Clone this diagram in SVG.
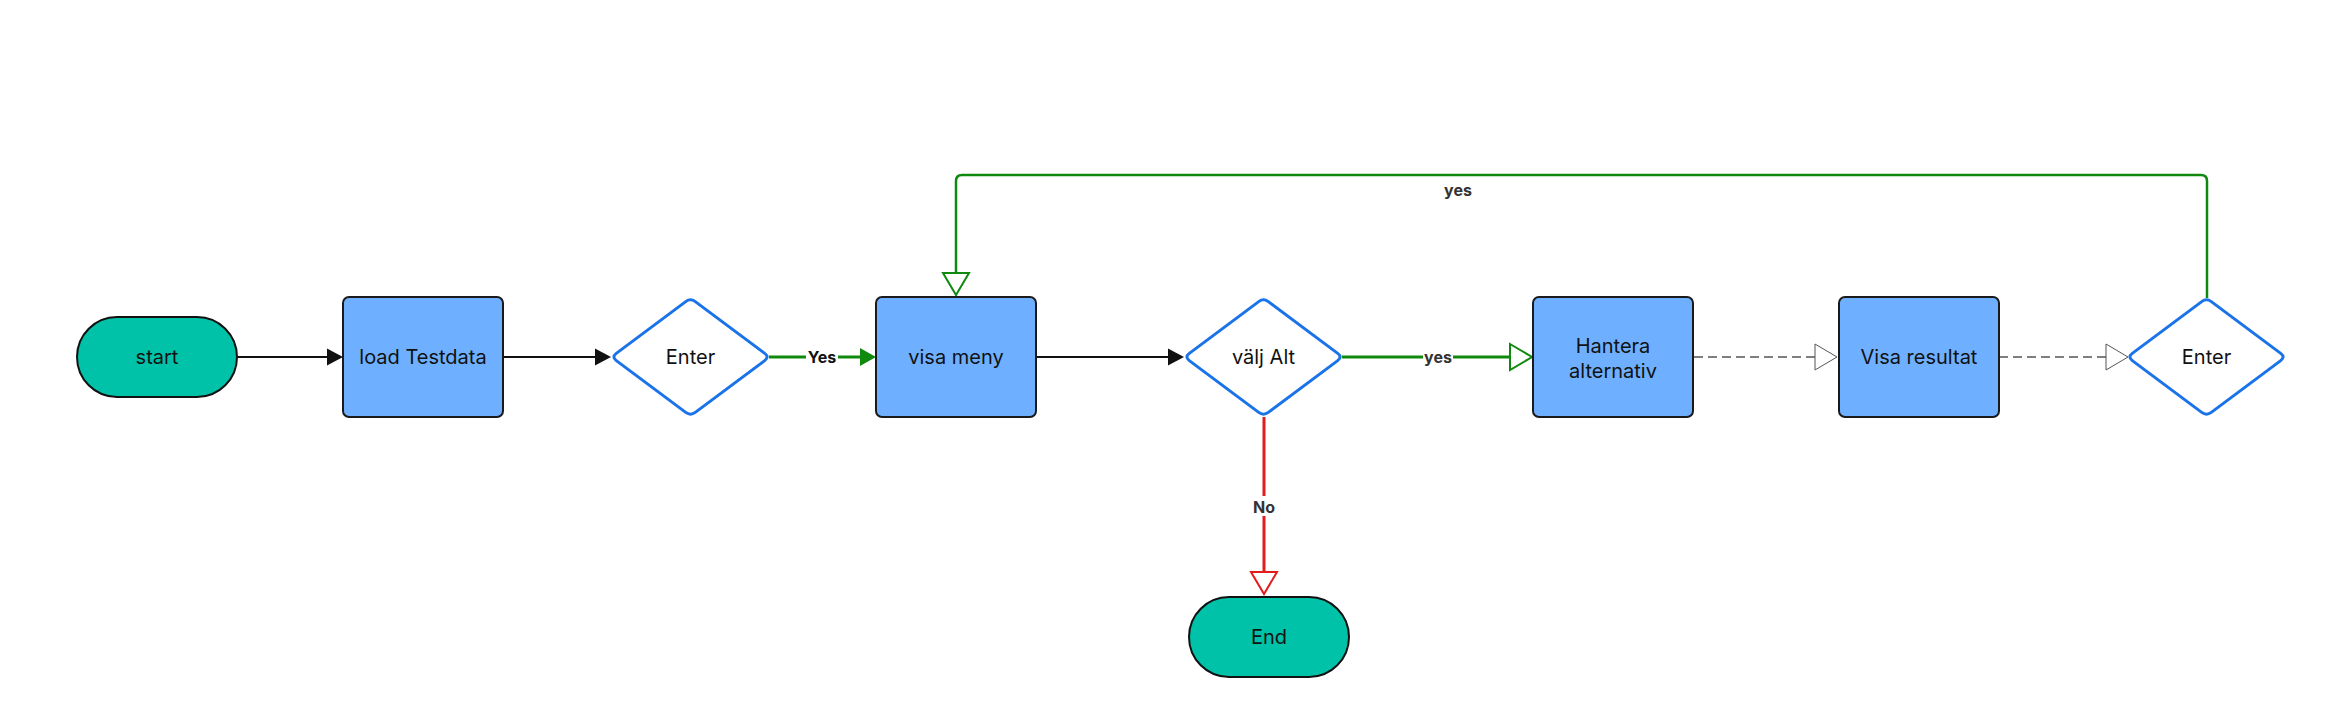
<svg xmlns="http://www.w3.org/2000/svg" width="2327" height="719" viewBox="0 0 2327 719">
<style>
  .pill{fill:#00c2a8;stroke:#111;stroke-width:2}
  .box{fill:#6eb0ff;stroke:#1a1a1a;stroke-width:2}
  .dia{fill:#fff;stroke:#1a73e8;stroke-width:3}
  .t{font-family:Inter,"Liberation Sans",sans-serif;font-size:20px;fill:#111;text-anchor:middle}
  .lbl{font-family:Inter,"Liberation Sans",sans-serif;font-size:16px;font-weight:bold;fill:#333;text-anchor:middle}
  .lbg{fill:#fff}
  .blk{fill:none;stroke:#111;stroke-width:2}
  .grn{fill:none;stroke:#0f8a0f;stroke-width:3}
  .grn2{fill:none;stroke:#0f8a0f;stroke-width:2.5}
  .red{fill:none;stroke:#e31b1b;stroke-width:3}
  .dash{fill:none;stroke:#555;stroke-width:1.5;stroke-dasharray:9 5}
</style>
<defs>
  <marker id="aBlk" markerUnits="userSpaceOnUse" markerWidth="20" markerHeight="20" refX="0" refY="0" orient="auto" overflow="visible">
    <path d="M0,-8.5 L16,0 L0,8.5 Z" fill="#111"/>
  </marker>
  <marker id="aGrnF" markerUnits="userSpaceOnUse" markerWidth="20" markerHeight="20" refX="0" refY="0" orient="auto" overflow="visible">
    <path d="M0,-9 L16,0 L0,9 Z" fill="#0f8a0f"/>
  </marker>
  <marker id="aGrnO" markerUnits="userSpaceOnUse" markerWidth="26" markerHeight="30" refX="0" refY="0" orient="auto" overflow="visible">
    <path d="M0,-13 L22,0 L0,13 Z" fill="#fff" stroke="#0f8a0f" stroke-width="2"/>
  </marker>
  <marker id="aRedO" markerUnits="userSpaceOnUse" markerWidth="26" markerHeight="30" refX="0" refY="0" orient="auto" overflow="visible">
    <path d="M0,-13 L22,0 L0,13 Z" fill="#fff" stroke="#e31b1b" stroke-width="2"/>
  </marker>
  <marker id="aGryO" markerUnits="userSpaceOnUse" markerWidth="26" markerHeight="30" refX="0" refY="0" orient="auto" overflow="visible">
    <path d="M0,-13 L22,0 L0,13 Z" fill="#fff" stroke="#555" stroke-width="1"/>
  </marker>
  <path id="diamond" d="M-4.8,-55.4 Q0,-59 4.8,-55.4 L74.2,-3.6 Q79,0 74.2,3.6 L4.8,55.4 Q0,59 -4.8,55.4 L-74.2,3.6 Q-79,0 -74.2,-3.6 Z"/>
</defs>
<rect width="2327" height="719" fill="#fff"/>

<g id="connectors">
  <path class="blk" d="M237,357 H327" marker-end="url(#aBlk)"/>
  <path class="blk" d="M503,357 H595" marker-end="url(#aBlk)"/>
  <path class="grn" d="M769,357 H860" marker-end="url(#aGrnF)"/>
  <rect class="lbg" x="806" y="348" width="32" height="18"/>
  <text class="lbl" x="822" y="363" style="fill:#111">Yes</text>
  <path class="blk" d="M1036,357 H1168" marker-end="url(#aBlk)"/>
  <path class="grn" d="M1342,357 H1510" marker-end="url(#aGrnO)"/>
  <rect class="lbg" x="1423" y="348" width="30" height="18"/>
  <text class="lbl" x="1438" y="363">yes</text>
  <path class="red" d="M1264,417 V572" marker-end="url(#aRedO)"/>
  <rect class="lbg" x="1250" y="496" width="28" height="20"/>
  <text class="lbl" x="1264" y="513">No</text>
  <path class="dash" d="M1694,357 H1815" marker-end="url(#aGryO)"/>
  <path class="dash" d="M1999,357 H2106" marker-end="url(#aGryO)"/>
  <path class="grn2" d="M2207,298 V181 Q2207,175 2201,175 H962 Q956,175 956,181 V273" marker-end="url(#aGrnO)"/>
  <text class="lbl" x="1458" y="196">yes</text>
</g>

<g id="start">
  <rect class="pill" x="77" y="317" width="160" height="80" rx="40"/>
  <text class="t" x="157" y="364">start</text>
</g>
<g id="load-testdata">
  <rect class="box" x="343" y="297" width="160" height="120" rx="6"/>
  <text class="t" x="423" y="364">load Testdata</text>
</g>
<g id="enter-1">
  <use href="#diamond" class="dia" transform="translate(690.5,357)"/>
  <text class="t" x="690.5" y="364">Enter</text>
</g>
<g id="visa-meny">
  <rect class="box" x="876" y="297" width="160" height="120" rx="6"/>
  <text class="t" x="956" y="364">visa meny</text>
</g>
<g id="valj-alt">
  <use href="#diamond" class="dia" transform="translate(1263.5,357)"/>
  <text class="t" x="1263.5" y="364">välj Alt</text>
</g>
<g id="end">
  <rect class="pill" x="1189" y="597" width="160" height="80" rx="40"/>
  <text class="t" x="1269" y="644">End</text>
</g>
<g id="hantera-alternativ">
  <rect class="box" x="1533" y="297" width="160" height="120" rx="6"/>
  <text class="t" x="1613" y="353">Hantera</text>
  <text class="t" x="1613" y="378">alternativ</text>
</g>
<g id="visa-resultat">
  <rect class="box" x="1839" y="297" width="160" height="120" rx="6"/>
  <text class="t" x="1919" y="364">Visa resultat</text>
</g>
<g id="enter-2">
  <use href="#diamond" class="dia" transform="translate(2206.5,357)"/>
  <text class="t" x="2206.5" y="364">Enter</text>
</g>
</svg>
